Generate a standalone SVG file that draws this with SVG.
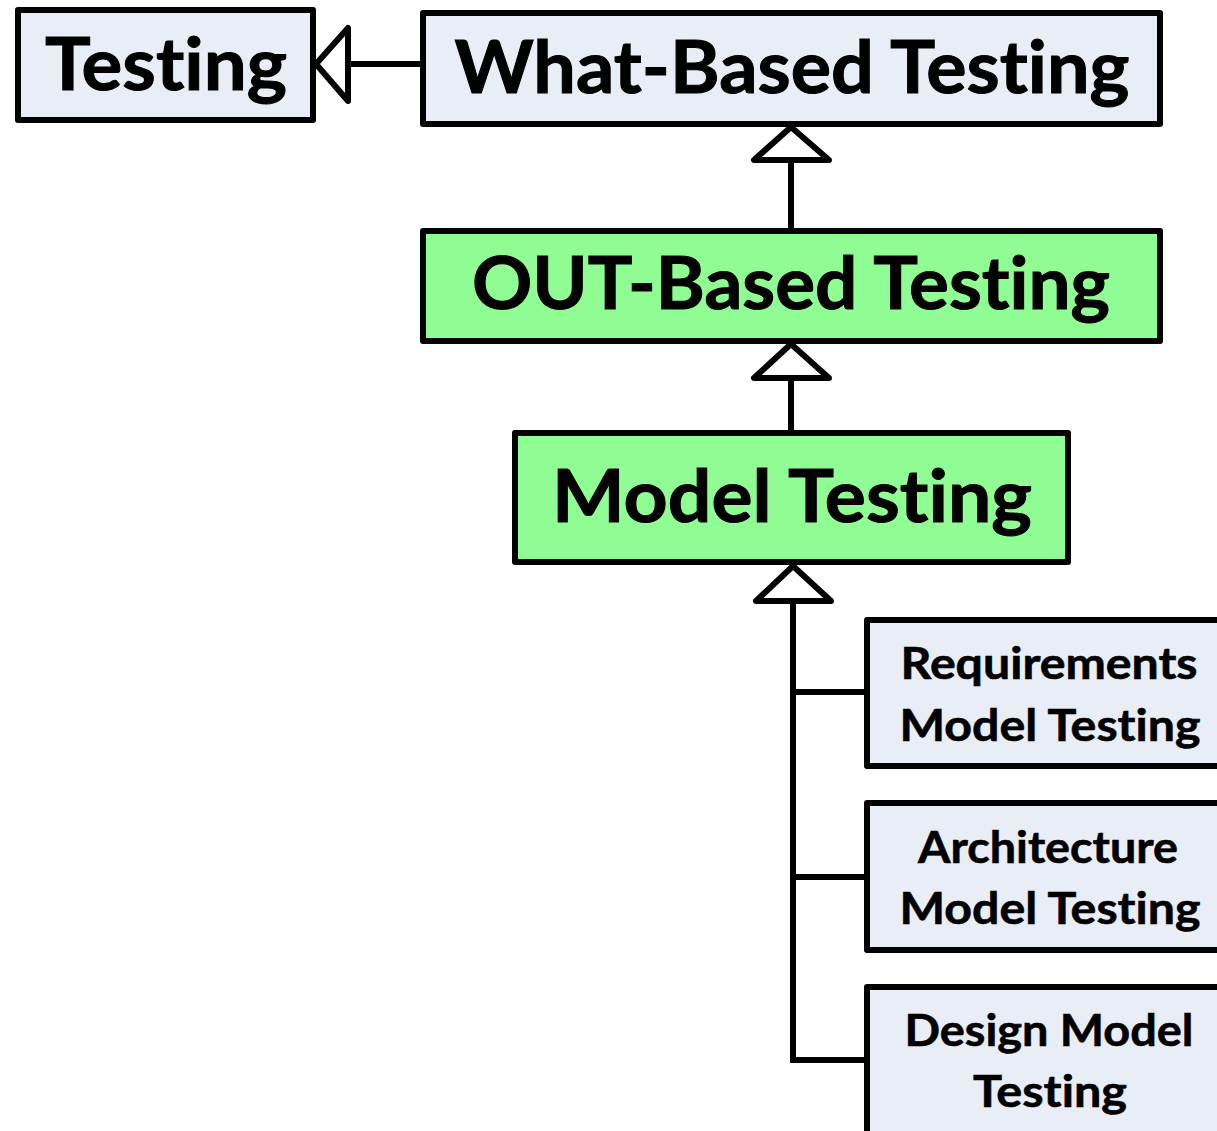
<svg xmlns="http://www.w3.org/2000/svg" width="1217" height="1131" viewBox="0 0 1217 1131">
<style>
.box{stroke:#000;stroke-width:6;stroke-linejoin:round}
.grey{fill:#e9edf5}
.green{fill:#8ffd93}
.big{font-family:Lato,"Liberation Sans",sans-serif;font-weight:bold;font-size:72px;fill:#000;text-anchor:middle;font-variant-ligatures:none;font-feature-settings:"liga" 0;stroke:#000;stroke-width:1}
.small{font-family:Lato,"Liberation Sans",sans-serif;font-weight:bold;font-size:44px;fill:#000;text-anchor:middle;font-variant-ligatures:none;font-feature-settings:"liga" 0;stroke:#000;stroke-width:0.6}
.con{stroke:#000;stroke-width:6;fill:none}
.tri{stroke:#000;stroke-width:6;fill:#fff;stroke-linejoin:round}
</style>
<rect width="1217" height="1131" fill="#fff"/>
<g id="connectors">
<line class="con" x1="348" y1="64" x2="422" y2="64"/>
<polygon class="tri" points="316,64 348,28 348,101"/>
<line class="con" x1="791" y1="160" x2="791" y2="230"/>
<polygon class="tri" points="791,127 754,160 829,160"/>
<line class="con" x1="791" y1="378" x2="791" y2="432"/>
<polygon class="tri" points="791,344 754,378 829,378"/>
<polyline class="con" points="793,600 793,1060 866,1060"/>
<line class="con" x1="793" y1="692" x2="866" y2="692"/>
<line class="con" x1="793" y1="877" x2="866" y2="877"/>
<polygon class="tri" points="793,566 756,601 831,601"/>
</g>
<g id="testing">
<rect class="box grey" x="18" y="10" width="295" height="110"/>
<text class="big" x="166" y="90" textLength="242" lengthAdjust="spacingAndGlyphs">Testing</text>
</g>
<g id="what-based">
<rect class="box grey" x="423" y="13" width="737" height="111"/>
<text class="big" x="792" y="93" textLength="675" lengthAdjust="spacingAndGlyphs">What-Based Testing</text>
</g>
<g id="out-based">
<rect class="box green" x="423" y="231" width="737" height="110"/>
<text class="big" x="791" y="309" textLength="638" lengthAdjust="spacingAndGlyphs">OUT-Based Testing</text>
</g>
<g id="model-testing">
<rect class="box green" x="515" y="433" width="553" height="129"/>
<text class="big" x="792" y="522" textLength="480" lengthAdjust="spacingAndGlyphs">Model Testing</text>
</g>
<g id="requirements">
<rect class="box grey" x="867" y="620" width="360" height="146"/>
<text class="small" x="1049" y="679" textLength="297" lengthAdjust="spacingAndGlyphs">Requirements</text>
<text class="small" x="1050" y="741" textLength="301" lengthAdjust="spacingAndGlyphs">Model Testing</text>
</g>
<g id="architecture">
<rect class="box grey" x="867" y="803" width="360" height="147"/>
<text class="small" x="1048" y="863" textLength="260" lengthAdjust="spacingAndGlyphs">Architecture</text>
<text class="small" x="1050" y="924" textLength="301" lengthAdjust="spacingAndGlyphs">Model Testing</text>
</g>
<g id="design">
<rect class="box grey" x="867" y="987" width="360" height="160"/>
<text class="small" x="1049" y="1046" textLength="289" lengthAdjust="spacingAndGlyphs">Design Model</text>
<text class="small" x="1050" y="1107" textLength="154" lengthAdjust="spacingAndGlyphs">Testing</text>
</g>
</svg>
